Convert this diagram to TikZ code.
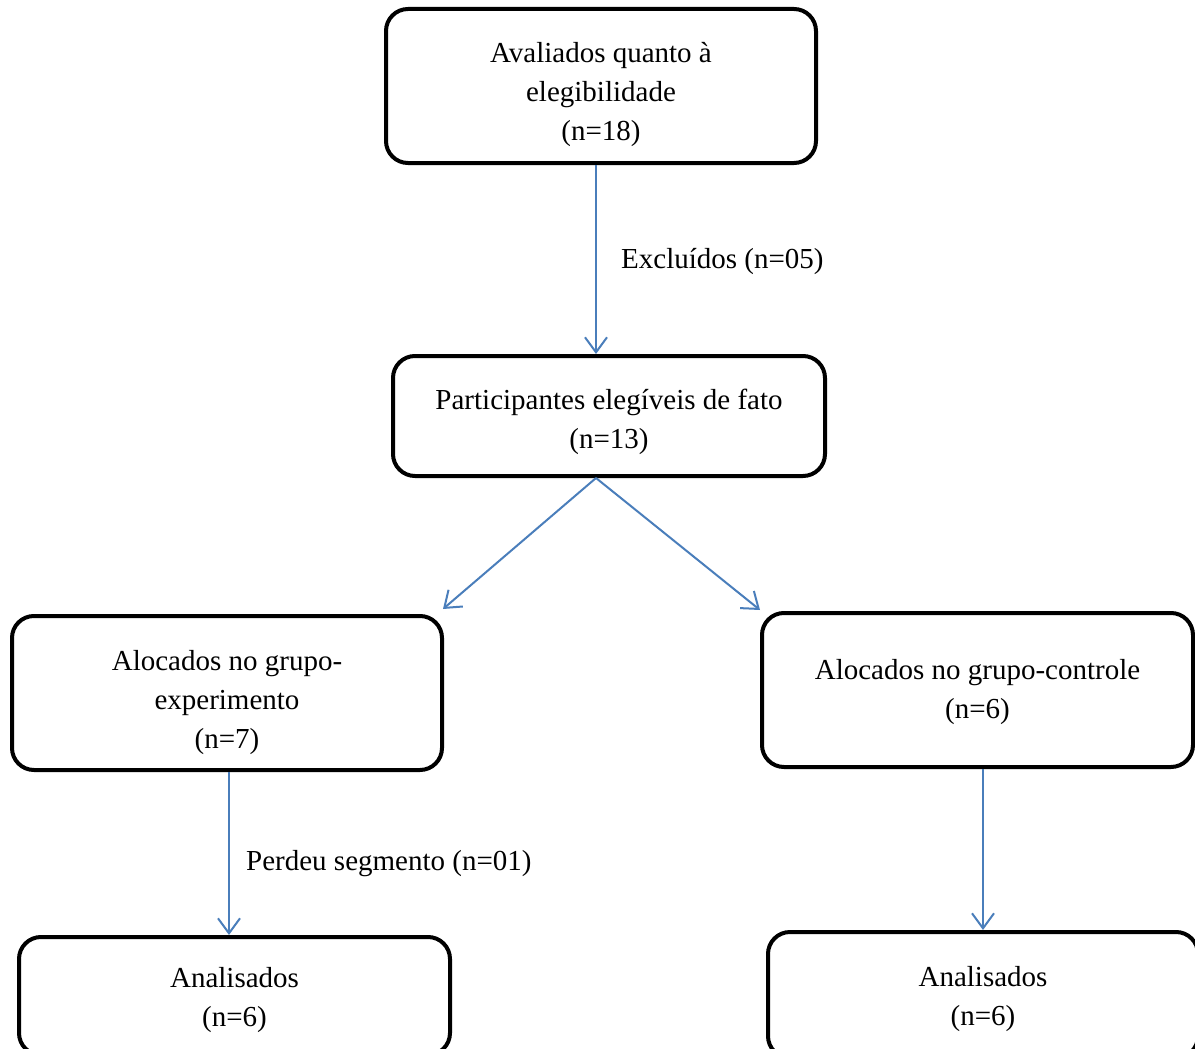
\documentclass[tikz,border=0pt]{standalone}
\usepackage{fontspec}
\setmainfont{Liberation Serif}
\usetikzlibrary{arrows.meta,calc}
\definecolor{arrowblue}{HTML}{4A7EBB}
\newcommand\shiftedtext[2]{\raisebox{-#1}[\height][\depth]{\begin{tabular}{@{}c@{}}#2\end{tabular}}}
\tikzset{
  box/.style={draw=black, line width=4pt, rounded corners=22pt, align=center,
    font=\fontsize{29}{39}\selectfont, inner sep=0pt},
  arr/.style={draw=arrowblue, line width=2pt,
    -{Straight Barb[length=15pt,width=22pt,line width=2pt]}},
  lbl/.style={font=\fontsize{29}{39}\selectfont, anchor=west, inner sep=0pt}
}
\begin{document}
\begin{tikzpicture}[x=1pt,y=-1pt]
\useasboundingbox (0,0) rectangle (1195,1049);
\clip (0,0) rectangle (1195,1049);
\node[box, minimum width=430pt, minimum height=154pt] (b1) at (601,86)
  {\shiftedtext{8pt}{Avaliados quanto à\\elegibilidade\\(n=18)}};
\node[box, minimum width=432pt, minimum height=120pt] (b2) at (609,416)
  {\shiftedtext{5pt}{Participantes elegíveis de fato\\(n=13)}};
\node[box, minimum width=430pt, minimum height=154pt] (b3) at (227,693)
  {\shiftedtext{9pt}{Alocados no grupo-\\experimento\\(n=7)}};
\node[box, minimum width=431pt, minimum height=154pt] (b4) at (977.5,690)
  {\shiftedtext{1pt}{Alocados no grupo-controle\\(n=6)}};
\node[box, minimum width=431pt, minimum height=118pt] (b5) at (234.5,996)
  {\shiftedtext{3pt}{Analisados\\(n=6)}};
\node[box, minimum width=430pt, minimum height=126pt] (b6) at (983,995)
  {\shiftedtext{3pt}{Analisados\\(n=6)}};
\draw[arr] ($(b1.south)+(-5,0)$) -- ($(b2.north)+(-13,0)$);
\node[lbl] (l1) at (621,262) {Excluídos (n=05)};
\draw[arr] ($(b2.south)+(-13,0)$) -- ($(b3.north east)+(-1,-5)$);
\draw[arr] ($(b2.south)+(-13,0)$) -- ($(b4.north west)+(0,-1)$);
\draw[arr] ($(b3.south)+(2,0)$) -- ($(b5.north)+(-5.5,0)$);
\node[lbl] (l2) at (246,864) {Perdeu segmento (n=01)};
\draw[arr] ($(b4.south)+(5.5,0)$) -- (b6.north);
\end{tikzpicture}
\end{document}
